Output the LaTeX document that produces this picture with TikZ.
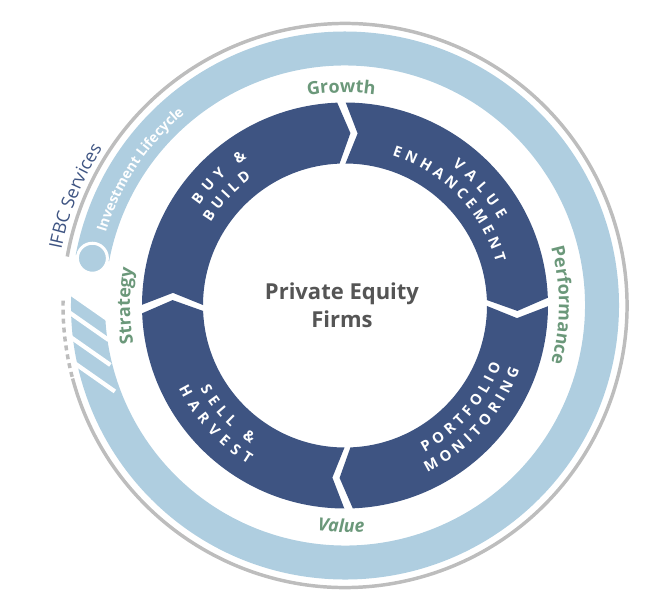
\documentclass[tikz,border=0pt]{standalone}
\usepackage{fontspec}
\usepackage{tikz}
\usetikzlibrary{decorations.text}
\newfontfamily\osans{Open Sans}
\definecolor{segblue}{RGB}{62,84,130}
\definecolor{ringblue}{RGB}{175,206,224}
\definecolor{rimgray}{RGB}{189,189,189}
\definecolor{labelgreen}{RGB}{107,152,122}
\definecolor{firmgray}{RGB}{85,85,85}
\newcommand{\segfont}{\osans\bfseries\fontsize{11}{13}\selectfont}
\newcommand{\stagefont}{\osans\bfseries\fontsize{13.5}{16}\selectfont}

\begin{document}
\begin{tikzpicture}[x=0.75pt, y=0.75pt,
    segfill/.style={fill=segblue},
    seglabel/.style={decorate, decoration={text along path, text align={fit to path}, text color=white}},
    stagelabel/.style={decorate, decoration={text along path, text align=center, text color=labelgreen}},
    rim/.style={draw=rimgray, line width=2.6pt}]

    \useasboundingbox (-345,-298.5) rectangle (318,305.5);

    % Outer grey rim, broken on the left
    \draw[rim] (195:282) arc[start angle=195, end angle=530, radius=282];
    \draw[rim, dash pattern=on 3.75pt off 3pt] (179:282) arc[start angle=179, end angle=195, radius=282];

    % Light ring
    \fill[ringblue] (176:274) arc[start angle=176, end angle=529.4, radius=274]
        -- (169.4:240) arc[start angle=529.4, end angle=176, radius=240] -- cycle;
    % slanted cut and stripes
    \fill[white] (-282.2,15) -- (-233,-19.4) -- (-230,28) -- (-282.2,28) -- cycle;
    \foreach \x/\y in {-274.9/-7.5, -273.1/-32.5, -268.6/-59}
        \draw[white, line width=3.2pt] (\x,\y) ++(-2.5,1.75) -- ++(41,-28.7);

    % End cap of the light ring
    \filldraw[fill=ringblue, draw=white, line width=2.25pt] (169.4:257) circle[radius=15];

    % Four stages, each with a tip and a notch
    \foreach \g in {1,91,181,271} {
        \pgfmathsetmacro\ta{\g+90-1.2}
        \pgfmathsetmacro\tb{\g+1.2}
        \fill[segfill] (\ta:203) arc[start angle=\ta, end angle=\tb, radius=203]
            -- ({\tb-4}:172.5) -- (\tb:142) arc[start angle=\tb, end angle=\ta, radius=142]
            -- ({\ta-4}:172.5) -- cycle;
    }

    % Stage names
    \path[seglabel, decoration={text={|\segfont|BUY {\&}}}] (145.5:177) arc[start angle=145.5, end angle=123.6, radius=177];
    \path[seglabel, decoration={text={|\segfont|BUILD}}] (148.2:158) arc[start angle=148.2, end angle=126.3, radius=158];
    \path[seglabel, decoration={text={|\segfont|VALUE}}] (52.5:176) arc[start angle=52.5, end angle=29.1, radius=176];
    \path[seglabel, decoration={text={|\segfont|ENHANCEMENT}}] (72.5:157) arc[start angle=72.5, end angle=15.8, radius=157];
    \path[seglabel, decoration={text={|\segfont|PORTFOLIO}}] (-61.5:167) arc[start angle=-61.5, end angle=-20.8, radius=167];
    \path[seglabel, decoration={text={|\segfont|MONITORING}}] (-63.7:186) arc[start angle=-63.7, end angle=-20.3, radius=186];
    \path[seglabel, decoration={text={|\segfont|SELL {\&}}}] (209.8:167) arc[start angle=209.8, end angle=235.7, radius=167];
    \path[seglabel, decoration={text={|\segfont|HARVEST}}] (206.6:186) arc[start angle=206.6, end angle=238.7, radius=186];

    % Green labels between the rings
    \path[stagelabel, decoration={text={|\stagefont|Growth}}] (111:213) arc[start angle=111, end angle=71, radius=213];
    \path[stagelabel, decoration={text={|\stagefont|Performance}}] (20:214) arc[start angle=20, end angle=-20, radius=214];
    \path[stagelabel, decoration={text={|\stagefont\itshape|Value}}] (249:227) arc[start angle=249, end angle=289, radius=227];
    \path[stagelabel, decoration={text={|\stagefont|Strategy}}] (200:215) arc[start angle=200, end angle=160, radius=215];

    % Ring names
    \path[decorate, decoration={text along path, text align=center, text color=white,
        text={|\osans\bfseries\fontsize{10.5}{12}\selectfont|Investment Lifecycle}}]
        (176.5:250) arc[start angle=176.5, end angle=116.5, radius=250];
    \path[decorate, decoration={text along path, text align=center, text color=segblue,
        text={|\osans\fontsize{13.5}{16}\selectfont|IFBC Services}}]
        (189:289) arc[start angle=189, end angle=127, radius=289];

    % Centre
    \node[align=center, text=firmgray, font=\osans\bfseries\fontsize{16.5}{21}\selectfont] (firms) at (-3,0) {Private Equity\\Firms};

\end{tikzpicture}
\end{document}
